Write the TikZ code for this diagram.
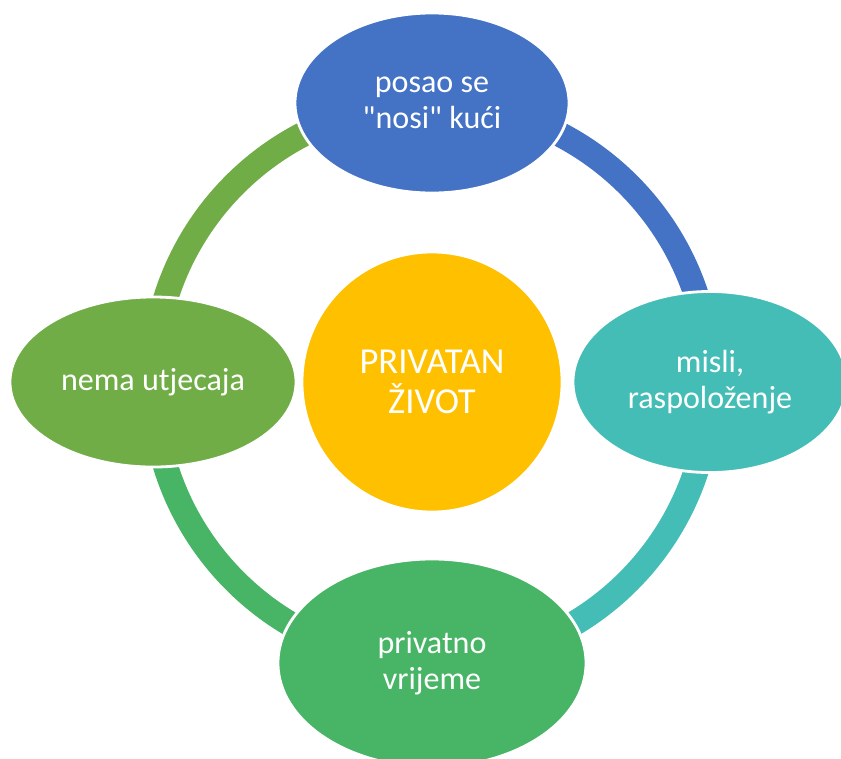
\documentclass[tikz,border=0pt]{standalone}
\usepackage{fontspec}
\setmainfont{Carlito}[Ligatures=TeXOff]
\usetikzlibrary{shapes.geometric,backgrounds}
\definecolor{plava}{HTML}{4472C4}
\definecolor{tirkiz}{HTML}{44BDB7}
\definecolor{zelena}{HTML}{47B565}
\definecolor{maslina}{HTML}{70AD47}
\definecolor{zuta}{HTML}{FFC000}
\begin{document}
\begin{tikzpicture}[x=0.025cm,y=0.025cm,
        elipsa/.style={ellipse,draw=white,line width=2pt,text=white,align=center,inner sep=0pt,font=\fontsize{22.8}{25.6}\selectfont},
        luk/.style={line width=0.625cm}]
        \useasboundingbox (0,0) rectangle (841,-758);
        \coordinate (S) at (432,-382);
        \coordinate (G) at (432,-103);
        \coordinate (D) at (710,-382);
        \coordinate (B) at (432,-663);
        \coordinate (L) at (153,-382);

        \node[elipsa,circle,fill=zuta,minimum size=6.5cm,font=\fontsize{26}{28}\selectfont] (centar) at (S) {PRIVATAN\\ŽIVOT};
        \node[elipsa,fill=plava,minimum width=6.85cm,minimum height=4.5cm] (gore) at (G) {posao se\\"nosi" kući};
        \node[elipsa,fill=tirkiz,minimum width=6.85cm,minimum height=4.525cm] (desno) at (D) {misli,\\raspoloženje};
        \node[elipsa,fill=zelena,minimum width=7.7cm,minimum height=5.2cm] (dolje) at (B) {privatno\\vrijeme};
        \node[elipsa,fill=maslina,minimum width=7.15cm,minimum height=4.25cm] (lijevo) at (L) {nema utjecaja};

        \begin{pgfonlayer}{background}
        \draw[luk,plava] (gore.center) to[bend left=45] (desno.center);
        \draw[luk,tirkiz] (desno.center) to[bend left=45] (dolje.center);
        \draw[luk,zelena] (dolje.center) to[bend left=45] (lijevo.center);
        \draw[luk,maslina] (lijevo.center) to[bend left=45] (gore.center);
        \end{pgfonlayer}
\end{tikzpicture}
\end{document}
